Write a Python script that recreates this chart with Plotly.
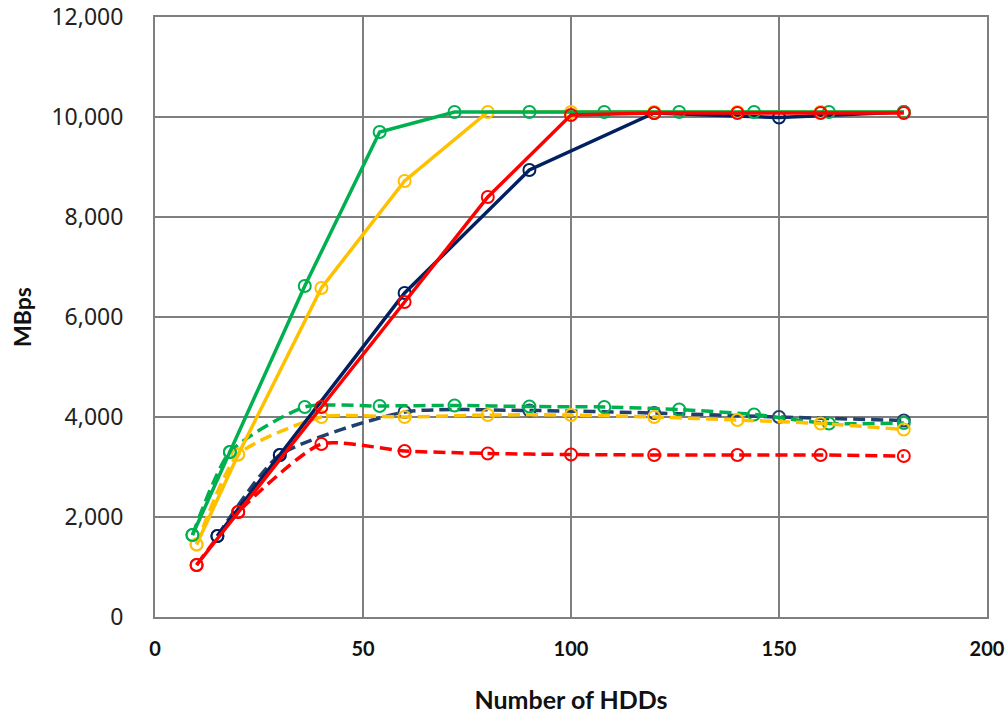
import plotly.graph_objects as go

# ---- data ----
green_x = [9, 18, 36, 54, 72, 90, 108, 126, 144, 162, 180]
green_solid = [1640, 3300, 6620, 9700, 10100, 10100, 10100, 10100, 10100, 10100, 10100]
green_dash = [1640, 3300, 4200, 4220, 4230, 4210, 4200, 4150, 4050, 3870, 3880]

yellow_x = [10, 20, 40, 60, 80, 100, 120, 140, 160, 180]
yellow_solid = [1450, 3250, 6580, 8720, 10100, 10100, 10100, 10100, 10100, 10100]
yellow_dash = [1450, 3250, 4000, 4000, 4040, 4040, 4000, 3940, 3870, 3750]

navy_x = [15, 30, 60, 90, 120, 150, 180]
navy_solid = [1620, 3240, 6480, 8940, 10080, 9990, 10100]
navy_dash = [1620, 3240, 4100, 4130, 4080, 4000, 3930]

red_x = [10, 20, 40, 60, 80, 100, 120, 140, 160, 180]
red_solid = [1040, 2100, 4200, 6300, 8400, 10040, 10080, 10080, 10080, 10080]
red_dash = [1040, 2100, 3460, 3320, 3270, 3250, 3240, 3240, 3240, 3220]

x_ticks = [0, 50, 100, 150, 200]
y_ticks = [0, 2000, 4000, 6000, 8000, 10000, 12000]

GREEN = "#00B050"
YELLOW = "#FFC000"
NAVY = "#002060"
NAVY_D = "#22406E"
RED = "#FF0000"

fig = go.Figure()

def add(x, y, color, dash, spline=False):
    fig.add_trace(go.Scatter(
        x=x, y=y, mode="lines+markers",
        line=dict(color=color, width=3.5, dash=dash,
                  shape="spline" if spline else "linear", smoothing=0.6),
        marker=dict(symbol="circle-open", size=12, color=color, line=dict(width=2, color=color)),
        showlegend=False, hoverinfo="skip"))

DASH = "12px,6px"
add(navy_x, navy_dash, NAVY_D, DASH, True)
add(green_x, green_dash, GREEN, DASH, True)
add(yellow_x, yellow_dash, YELLOW, DASH, True)
add(red_x, red_dash, RED, DASH, True)
add(navy_x, navy_solid, NAVY, "solid")
add(yellow_x, yellow_solid, YELLOW, "solid")
add(green_x, green_solid, GREEN, "solid")
add(red_x, red_solid, RED, "solid")

grid = "#7F7F7F"
NARROW = "Lato, sans-serif"
fig.update_layout(
    width=1008, height=716,
    margin=dict(l=155, r=21, t=17, b=99),
    plot_bgcolor="white", paper_bgcolor="white",
    hovermode=False,
    xaxis=dict(
        range=[0, 200], tickvals=x_ticks, ticktext=[f"<b>{v}</b>" for v in x_ticks],
        showgrid=True, gridcolor=grid, gridwidth=2,
        showline=True, linecolor=grid, linewidth=2, mirror=True,
        zeroline=False, ticks="", automargin=False, ticklabeloverflow="allow",
        tickfont=dict(family=NARROW, size=20, color="#111"),
        ticklabelstandoff=13,
        title=dict(text="<b>Number of HDDs</b>", standoff=32,
                   font=dict(family=NARROW, size=25, color="#111")),
    ),
    yaxis=dict(
        range=[0, 12000], tickvals=y_ticks,
        ticktext=[f"{v:,}" for v in y_ticks],
        showgrid=True, gridcolor=grid, gridwidth=2,
        showline=True, linecolor=grid, linewidth=2, mirror=True,
        zeroline=False, ticks="", automargin=False, ticklabeloverflow="allow",
        tickfont=dict(family="Noto Sans, DejaVu Sans, sans-serif", size=23, color="#222"),
        ticklabelstandoff=25,
        title=dict(text="<b>MBps</b>", standoff=13,
                   font=dict(family=NARROW, size=23, color="#111")),
    ),
)

# remove the default 8px page margin so the 1008x716 figure fills the window exactly
fig.write_html("out.html", config={"displayModeBar": False},
               post_script="document.body.style.margin='0';document.body.style.overflow='hidden';")
